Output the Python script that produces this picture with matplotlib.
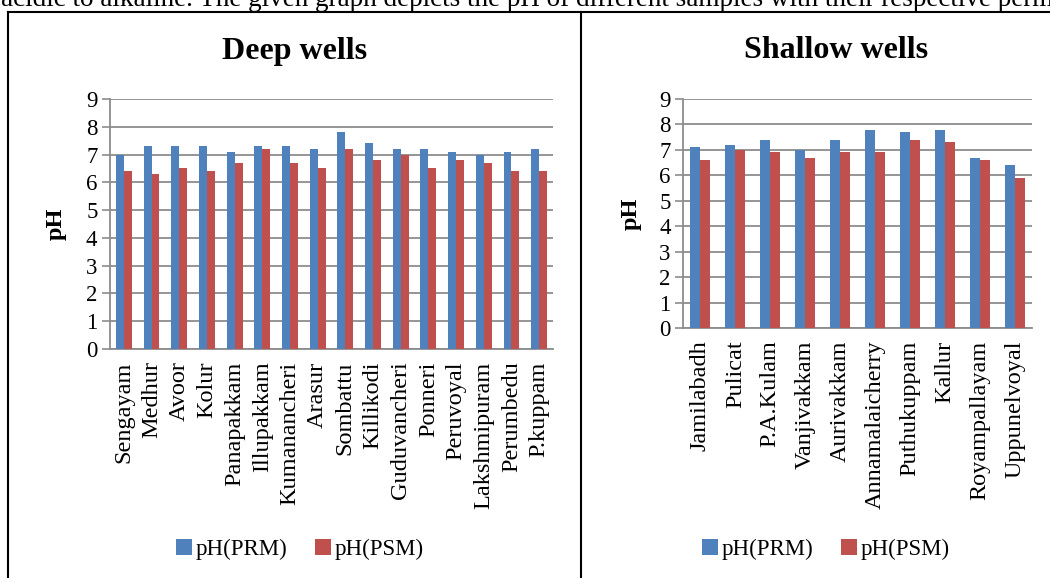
import matplotlib.pyplot as plt
from matplotlib.lines import Line2D
import numpy as np

plt.rcParams['font.family'] = ['Liberation Serif', 'DejaVu Serif']

# Deep wells samples
deep_sites = ['Sengayam', 'Medhur', 'Avoor', 'Kolur', 'Panapakkam', 'Illupakkam',
              'Kumanancheri', 'Arasur', 'Sombattu', 'Killikodi', 'Guduvancheri',
              'Ponneri', 'Peruvoyal', 'Lakshmipuram', 'Perumbedu', 'P.kuppam']
deep_prm = [7.0, 7.3, 7.3, 7.3, 7.1, 7.3, 7.3, 7.2, 7.8, 7.4, 7.2, 7.2, 7.1, 7.0, 7.1, 7.2]
deep_psm = [6.4, 6.3, 6.5, 6.4, 6.7, 7.2, 6.7, 6.5, 7.2, 6.8, 7.0, 6.5, 6.8, 6.7, 6.4, 6.4]

# Shallow wells samples
shallow_sites = ['Jamilabadh', 'Pulicat', 'P.A.Kulam', 'Vanjivakkam', 'Aurivakkam',
                 'Annamalaicherry', 'Puthukuppam', 'Kallur', 'Royampallayam', 'Uppunelvoyal']
shallow_prm = [7.1, 7.2, 7.4, 7.0, 7.4, 7.8, 7.7, 7.8, 6.7, 6.4]
shallow_psm = [6.6, 7.0, 6.9, 6.7, 6.9, 6.9, 7.4, 7.3, 6.6, 5.9]

series_names = ['pH(PRM)', 'pH(PSM)']
blue = '#4F81BD'
red = '#C0504D'
grid_gray = '#8C8C8C'

W, H = 1050, 578
fig = plt.figure(figsize=(10.5, 5.78), dpi=100)


def px(x0, y0, x1, y1):
    return [x0 / W, 1 - y1 / H, (x1 - x0) / W, (y1 - y0) / H]


def draw_panel(rect, sites, prm, psm, title, title_x, ylab_x, leg_x):
    ax = fig.add_axes(px(*rect))
    n = len(sites)
    x = np.arange(n)
    w = 0.286
    b1 = ax.bar(x - w / 2, prm, w, color=blue, zorder=3)
    b2 = ax.bar(x + w / 2, psm, w, color=red, zorder=3)
    ax.set_xlim(-0.5, n - 0.5)
    ax.set_ylim(0, 9)
    ax.set_yticks(range(10))
    ax.yaxis.grid(True, color=grid_gray, lw=1.3, zorder=0)
    ax.set_xticks(x)
    ax.set_xticklabels(sites, rotation=90, fontsize=17.5)
    ax.tick_params(axis='x', length=0, pad=9)
    ax.tick_params(axis='y', length=6, width=1.2, color=grid_gray,
                   labelsize=16.5, pad=3)
    for s in ['top', 'right']:
        ax.spines[s].set_visible(False)
    for s in ['left', 'bottom']:
        ax.spines[s].set_color(grid_gray)
        ax.spines[s].set_linewidth(1.3)
    cy = (rect[1] + rect[3]) / 2
    fig.text(ylab_x / W, 1 - cy / H, 'pH', rotation=90, fontsize=17.5,
             fontweight='bold', ha='center', va='center')
    fig.text(title_x / W, 1 - 51 / H, title, fontsize=23, fontweight='bold',
             ha='center', va='center')
    fig.legend([b1, b2], series_names, loc='center',
               bbox_to_anchor=(leg_x / W, 1 - 549 / H), ncol=2, frameon=False,
               fontsize=16.5, handlelength=0.7, handleheight=0.7,
               handletextpad=0.15, columnspacing=1.2)
    return ax


draw_panel((110, 99, 553, 349), deep_sites, deep_prm, deep_psm,
           'Deep wells', 295, 56, 300)
draw_panel((683, 99, 1032, 328), shallow_sites, shallow_prm, shallow_psm,
           'Shallow wells', 836, 631, 826)

# frame around the two panels
frame = dict(color='black', lw=1.5, transform=fig.transFigure)
fig.add_artist(Line2D([8 / W, 1], [1 - 11.5 / H] * 2, **frame))
fig.add_artist(Line2D([8 / W] * 2, [0, 1 - 11.5 / H], **frame))
fig.add_artist(Line2D([581 / W] * 2, [0, 1 - 11.5 / H], **frame))

# last line of the paragraph above the figure
fig.text(1 / W, 1 - 6.5 / H,
         'acidic to alkaline. The given graph depicts the pH of different samples '
         'with their respective permissible limits',
         fontsize=19.5, va='baseline', ha='left')

fig.savefig('out.png', dpi=100)
